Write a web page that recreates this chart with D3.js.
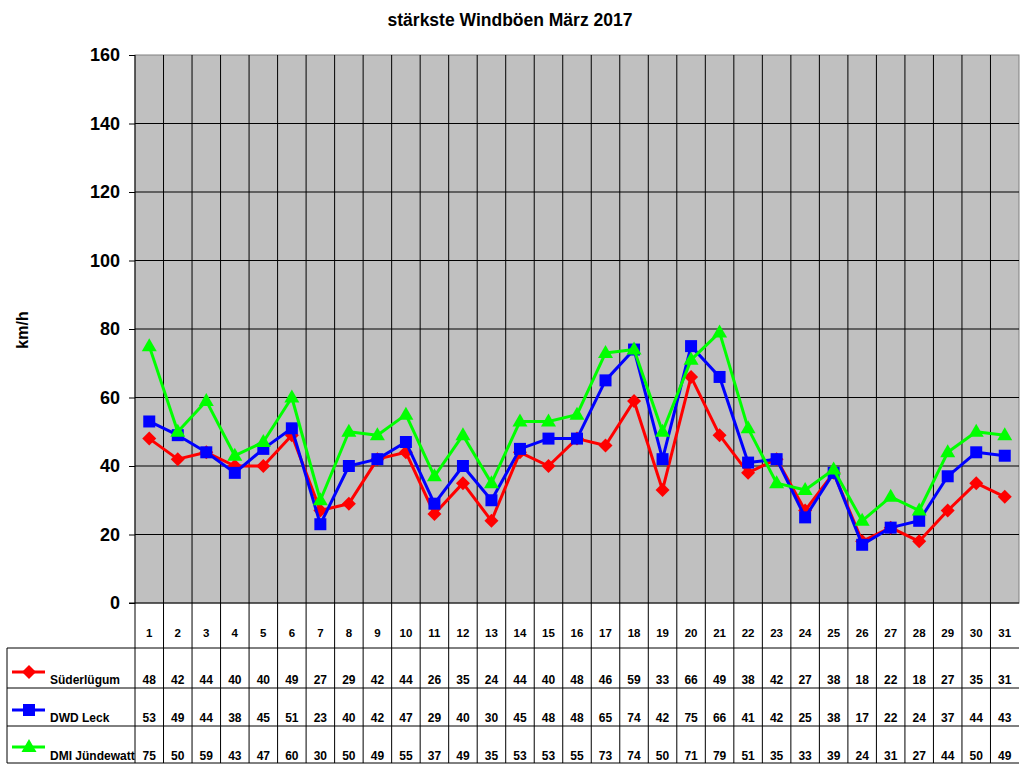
<!DOCTYPE html>
<html>
<head>
<meta charset="utf-8">
<script src="https://cdn.jsdelivr.net/npm/d3@7"></script>
<style>
  body { margin: 0; background: #fff; }
  text { font-family: "Liberation Sans", Arial, sans-serif; font-weight: bold; fill: #000; }
</style>
</head>
<body>
<svg id="chart" width="1024" height="768"></svg>
<script>
// data
const days = d3.range(1, 32);
const suederluegum = [48, 42, 44, 40, 40, 49, 27, 29, 42, 44, 26, 35, 24, 44, 40, 48, 46, 59, 33, 66, 49, 38, 42, 27, 38, 18, 22, 18, 27, 35, 31];
const dwdLeck = [53, 49, 44, 38, 45, 51, 23, 40, 42, 47, 29, 40, 30, 45, 48, 48, 65, 74, 42, 75, 66, 41, 42, 25, 38, 17, 22, 24, 37, 44, 43];
const dmiJuendewatt = [75, 50, 59, 43, 47, 60, 30, 50, 49, 55, 37, 49, 35, 53, 53, 55, 73, 74, 50, 71, 79, 51, 35, 33, 39, 24, 31, 27, 44, 50, 49];
const yTicks = [0, 20, 40, 60, 80, 100, 120, 140, 160];

const series = [
  { name: 'Süderlügum', values: suederluegum, color: '#ff0000', marker: 'diamond' },
  { name: 'DWD Leck', values: dwdLeck, color: '#0000ff', marker: 'square' },
  { name: 'DMI Jündewatt', values: dmiJuendewatt, color: '#00ff00', marker: 'triangle' }
];

const svg = d3.select('#chart');
const plotLeft = 135, plotRight = 1019, plotTop = 55, plotBottom = 603;

const x = d3.scaleBand().domain(days).range([plotLeft, plotRight]);
const y = d3.scaleLinear().domain([0, 160]).range([plotBottom, plotTop]);

// title
svg.append('text')
  .attr('x', 510).attr('y', 26)
  .attr('text-anchor', 'middle')
  .style('font-size', '17.5px')
  .text('stärkste Windböen März 2017');

// plot background
svg.append('rect')
  .attr('x', plotLeft).attr('y', plotTop)
  .attr('width', plotRight - plotLeft).attr('height', plotBottom - plotTop)
  .attr('fill', '#c0c0c0')
  .attr('stroke', '#808080');

// horizontal grid
svg.selectAll('.hgrid')
  .data(yTicks.filter(d => d > 0 && d < 160))
  .join('line')
  .attr('x1', plotLeft).attr('x2', plotRight)
  .attr('y1', d => y(d)).attr('y2', d => y(d))
  .attr('stroke', '#000').attr('stroke-width', 1);

// vertical grid (continues through the table)
const tableBottom = 763;
svg.selectAll('.vgrid')
  .data(days.slice(1))
  .join('line')
  .attr('x1', d => x(d)).attr('x2', d => x(d))
  .attr('y1', plotTop).attr('y2', tableBottom)
  .attr('stroke', '#000').attr('stroke-width', 1);

// y axis
const yAxis = d3.axisLeft(y).tickValues(yTicks).tickSize(6).tickPadding(9);
const gy = svg.append('g')
  .attr('transform', `translate(${plotLeft},0)`)
  .call(yAxis);
gy.select('.domain').attr('stroke', '#000').attr('d', `M0,${plotTop}V${tableBottom}`);
gy.selectAll('.tick line').attr('stroke', '#000');
gy.selectAll('.tick text')
  .style('font-size', '18px')
  .style('font-family', '"Liberation Sans", Arial, sans-serif')
  .style('font-weight', 'bold')
  .attr('fill', '#000');

// bottom axis line
svg.append('line')
  .attr('x1', plotLeft - 6).attr('x2', plotRight)
  .attr('y1', plotBottom).attr('y2', plotBottom)
  .attr('stroke', '#000');

// y label
svg.append('text')
  .attr('transform', 'translate(28,330) rotate(-90)')
  .attr('text-anchor', 'middle')
  .style('font-size', '16px')
  .text('km/h');

// markers
function markerPath(type) {
  if (type === 'diamond') return 'M0,-7L7,0L0,7L-7,0Z';
  if (type === 'square') return 'M-6,-6H6V6H-6Z';
  return 'M0,-8L7.5,5H-7.5Z';
}

const line = d3.line()
  .x((d, i) => x(days[i]) + x.bandwidth() / 2)
  .y(d => y(d));

series.forEach(s => {
  const g = svg.append('g');
  g.append('path')
    .attr('d', line(s.values))
    .attr('fill', 'none')
    .attr('stroke', s.color)
    .attr('stroke-width', 3)
    .attr('stroke-linejoin', 'round');
  g.selectAll('path.mk')
    .data(s.values)
    .join('path')
    .attr('class', 'mk')
    .attr('d', markerPath(s.marker))
    .attr('transform', (d, i) => `translate(${x(days[i]) + x.bandwidth() / 2},${y(d)})`)
    .attr('fill', s.color);
});

// data table
const rowTops = [648, 688, 726];
const rowBase = [684, 722, 760];
const legendLineY = [672, 710, 747];

svg.selectAll('.dayNum')
  .data(days)
  .join('text')
  .attr('x', d => x(d) + x.bandwidth() / 2)
  .attr('y', 637)
  .attr('text-anchor', 'middle')
  .style('font-size', '11.5px')
  .text(d => d);

rowTops.concat([tableBottom]).forEach(ry => {
  svg.append('line')
    .attr('x1', 7).attr('x2', plotRight)
    .attr('y1', ry).attr('y2', ry)
    .attr('stroke', '#000');
});
svg.append('line')
  .attr('x1', 7).attr('x2', 7)
  .attr('y1', rowTops[0]).attr('y2', tableBottom)
  .attr('stroke', '#000');

series.forEach((s, r) => {
  svg.append('line')
    .attr('x1', 12).attr('x2', 45)
    .attr('y1', legendLineY[r]).attr('y2', legendLineY[r])
    .attr('stroke', s.color).attr('stroke-width', 3);
  svg.append('path')
    .attr('d', markerPath(s.marker))
    .attr('transform', `translate(29,${legendLineY[r]})`)
    .attr('fill', s.color);
  svg.append('text')
    .attr('x', 50).attr('y', rowBase[r])
    .style('font-size', '12px')
    .text(s.name);
  svg.selectAll('.val' + r)
    .data(s.values)
    .join('text')
    .attr('x', (d, i) => x(days[i]) + x.bandwidth() / 2)
    .attr('y', rowBase[r])
    .attr('text-anchor', 'middle')
    .style('font-size', '12px')
    .text(d => d);
});
</script>
</body>
</html>
